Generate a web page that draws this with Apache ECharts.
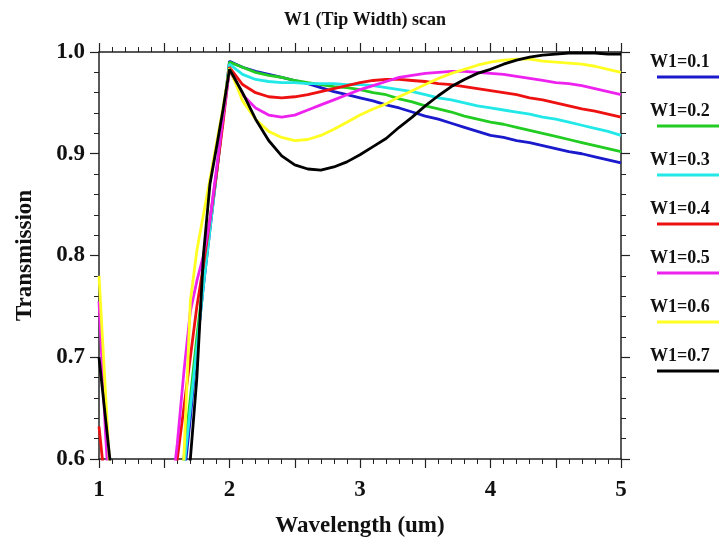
<!DOCTYPE html>
<html>
<head>
<meta charset="utf-8">
<script src="https://cdn.jsdelivr.net/npm/echarts@6/dist/echarts.min.js"></script>
<style>
  html, body { margin: 0; padding: 0; background: #fff; }
  #chart { width: 719px; height: 543px; }
</style>
</head>
<body>
<div id="chart"></div>
<script>
var wavelength = [1.0, 1.05, 1.1, 1.2, 1.3, 1.4, 1.5, 1.55, 1.6, 1.65, 1.7, 1.75, 1.8, 1.85, 1.9, 1.95, 2.0,
  2.1, 2.2, 2.3, 2.4, 2.5, 2.6, 2.7, 2.8, 2.9, 3.0, 3.1, 3.2, 3.3, 3.4, 3.5, 3.6, 3.7, 3.8, 3.9, 4.0,
  4.1, 4.2, 4.3, 4.4, 4.5, 4.6, 4.7, 4.8, 4.9, 5.0];

var names = ['W1=0.1', 'W1=0.2', 'W1=0.3', 'W1=0.4', 'W1=0.5', 'W1=0.6', 'W1=0.7'];
var colors = ['#1a1acc', '#22cc22', '#22e8e8', '#ee1111', '#ee22ee', '#ffff22', '#000000'];

var w01 = [0.55, 0.50, 0.45, 0.38, 0.34, 0.36, 0.42, 0.47, 0.52, 0.58, 0.64, 0.71, 0.77, 0.825, 0.88, 0.935, 0.991,
  0.985, 0.981, 0.978, 0.975, 0.972, 0.969, 0.965, 0.961, 0.958, 0.955, 0.952, 0.948, 0.945, 0.941, 0.937,
  0.934, 0.930, 0.926, 0.922, 0.918, 0.916, 0.913, 0.911, 0.908, 0.905, 0.902, 0.900, 0.897, 0.894, 0.891];
var w02 = [0.56, 0.51, 0.46, 0.39, 0.35, 0.37, 0.44, 0.49, 0.55, 0.60, 0.66, 0.72, 0.775, 0.83, 0.88, 0.935, 0.990,
  0.985, 0.980, 0.977, 0.975, 0.972, 0.970, 0.968, 0.966, 0.965, 0.963, 0.960, 0.958, 0.954, 0.951, 0.947,
  0.944, 0.941, 0.937, 0.934, 0.931, 0.929, 0.926, 0.923, 0.920, 0.917, 0.914, 0.911, 0.908, 0.905, 0.902];
var w03 = [0.57, 0.52, 0.47, 0.40, 0.36, 0.38, 0.45, 0.49, 0.54, 0.59, 0.65, 0.71, 0.77, 0.825, 0.88, 0.935, 0.988,
  0.978, 0.973, 0.971, 0.970, 0.970, 0.969, 0.969, 0.969, 0.968, 0.968, 0.967, 0.965, 0.963, 0.961, 0.958,
  0.955, 0.953, 0.950, 0.947, 0.945, 0.943, 0.941, 0.939, 0.936, 0.934, 0.931, 0.928, 0.925, 0.922, 0.918];
var w04 = [0.632, 0.57, 0.50, 0.41, 0.37, 0.40, 0.47, 0.53, 0.60, 0.65, 0.70, 0.75, 0.79, 0.835, 0.88, 0.93, 0.985,
  0.968, 0.960, 0.956, 0.955, 0.956, 0.958, 0.961, 0.964, 0.967, 0.970, 0.972, 0.973, 0.973, 0.972, 0.971,
  0.969, 0.968, 0.966, 0.964, 0.962, 0.960, 0.958, 0.955, 0.953, 0.950, 0.947, 0.944, 0.942, 0.939, 0.936];
var w05 = [0.755, 0.625, 0.52, 0.42, 0.38, 0.41, 0.50, 0.56, 0.615, 0.685, 0.745, 0.775, 0.80, 0.835, 0.885, 0.935, 0.982,
  0.958, 0.945, 0.938, 0.936, 0.938, 0.943, 0.948, 0.953, 0.958, 0.963, 0.967, 0.971, 0.975, 0.977, 0.979,
  0.980, 0.981, 0.981, 0.980, 0.979, 0.978, 0.976, 0.974, 0.972, 0.970, 0.969, 0.967, 0.964, 0.961, 0.958];
var w06 = [0.78, 0.665, 0.55, 0.43, 0.38, 0.40, 0.46, 0.51, 0.555, 0.60, 0.755, 0.805, 0.84, 0.875, 0.91, 0.945, 0.984,
  0.952, 0.934, 0.922, 0.916, 0.913, 0.914, 0.918, 0.924, 0.931, 0.938, 0.944, 0.949, 0.956, 0.962, 0.968,
  0.974, 0.979, 0.983, 0.987, 0.990, 0.992, 0.993, 0.993, 0.991, 0.990, 0.989, 0.988, 0.986, 0.983, 0.980];
var w07 = [0.70, 0.64, 0.58, 0.45, 0.39, 0.38, 0.42, 0.46, 0.49, 0.53, 0.60, 0.68, 0.80, 0.87, 0.906, 0.943, 0.983,
  0.960, 0.934, 0.913, 0.898, 0.889, 0.885, 0.884, 0.887, 0.892, 0.899, 0.907, 0.915, 0.926, 0.936, 0.947,
  0.957, 0.966, 0.973, 0.979, 0.983, 0.988, 0.992, 0.995, 0.997, 0.998, 0.999, 0.999, 0.999, 0.998, 0.998];

var allSeries = [w01, w02, w03, w04, w05, w06, w07];

var xTicks = { min: 1, max: 5, interval: 0.5 };
var yTicks = { min: 0.6, max: 1.0, interval: 0.1 };

var chart = echarts.init(document.getElementById('chart'));
var font = '"Liberation Serif", "DejaVu Serif", serif';
var axisCol = '#222';

function xAx(pos, labels) {
  return {
    type: 'value', position: pos, min: xTicks.min, max: xTicks.max, interval: xTicks.interval,
    name: labels ? 'Wavelength (um)' : '', nameLocation: 'middle', nameGap: 56,
    nameTextStyle: { fontFamily: font, fontWeight: 'bold', fontSize: 23, color: '#111' },
    axisLine: { show: true, onZero: false, lineStyle: { color: axisCol, width: 1.5 } },
    axisTick: { show: true, inside: false, length: 9, lineStyle: { color: axisCol, width: 1.2 } },
    minorTick: { show: true, splitNumber: 5, length: 5, lineStyle: { color: axisCol, width: 1 } },
    splitLine: { show: false },
    axisLabel: {
      show: labels, margin: 20, fontFamily: font, fontWeight: 'bold', fontSize: 23, color: '#111',
      formatter: function (v) { return Math.abs(v - Math.round(v)) < 1e-6 ? String(Math.round(v)) : ''; }
    }
  };
}
function yAx(pos, labels) {
  return {
    type: 'value', position: pos, min: yTicks.min, max: yTicks.max, interval: yTicks.interval,
    name: labels ? 'Transmission' : '', nameLocation: 'middle', nameGap: 62,
    nameTextStyle: { fontFamily: font, fontWeight: 'bold', fontSize: 23, color: '#111' },
    axisLine: { show: true, onZero: false, lineStyle: { color: axisCol, width: 1.5 } },
    axisTick: { show: true, inside: false, length: 9, lineStyle: { color: axisCol, width: 1.2 } },
    minorTick: { show: true, splitNumber: 5, length: 5, lineStyle: { color: axisCol, width: 1 } },
    splitLine: { show: false },
    axisLabel: {
      show: labels, margin: 14, fontFamily: font, fontWeight: 'bold', fontSize: 23, color: '#111',
      formatter: function (v) { return v.toFixed(1); }
    }
  };
}

var series = allSeries.map(function (vals, i) {
  return {
    name: names[i], type: 'line', xAxisIndex: 0, yAxisIndex: 0,
    data: wavelength.map(function (w, k) { return [w, vals[k]]; }),
    showSymbol: false, clip: true, smooth: false,
    lineStyle: { color: colors[i], width: 2.8 },
    itemStyle: { color: colors[i] }
  };
});

// legend: label above a short line, as in the source plot
var legendGraphics = [];
names.forEach(function (n, i) {
  var top = 53 + i * 49;
  legendGraphics.push({
    type: 'text', left: 650, top: top,
    style: { text: n, font: 'bold 18px ' + font, fill: '#111' }
  });
  legendGraphics.push({
    type: 'line', shape: { x1: 657, y1: top + 24, x2: 719, y2: top + 24 },
    style: { stroke: colors[i], lineWidth: 2.8 }
  });
});

var option = {
  animation: false,
  backgroundColor: '#fff',
  title: {
    text: 'W1 (Tip Width) scan', left: 360, top: 6, textAlign: 'center',
    textStyle: { fontFamily: font, fontWeight: 'bold', fontSize: 18, color: '#111' }
  },
  grid: { left: 99, right: 98, top: 52, bottom: 81, containLabel: false },
  xAxis: [xAx('bottom', true), xAx('top', false)],
  yAxis: [yAx('left', true), yAx('right', false)],
  series: series,
  graphic: legendGraphics
};
chart.setOption(option);
</script>
</body>
</html>
